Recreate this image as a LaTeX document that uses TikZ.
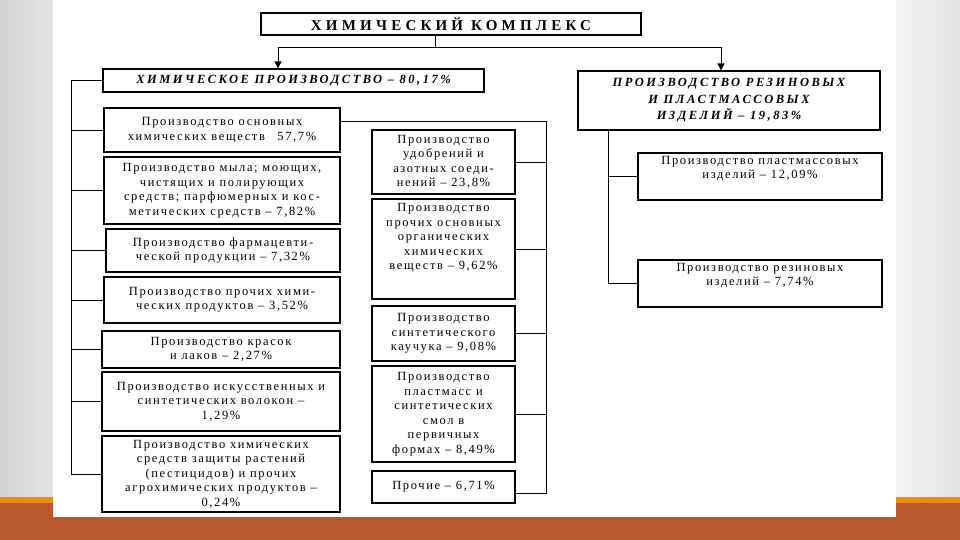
\documentclass[tikz,border=0pt]{standalone}
\usepackage{fontspec}
\setmainfont{Liberation Serif}
\newfontfamily\boxfont[LetterSpace=13]{Liberation Serif}
\newfontfamily\sectfont[LetterSpace=20]{Liberation Serif}
\newfontfamily\headfont[LetterSpace=28]{Liberation Serif}
\usetikzlibrary{calc,arrows.meta}
\definecolor{bandorange}{RGB}{184,88,46}
\definecolor{lineorange}{RGB}{232,140,20}
\definecolor{slidegray}{RGB}{214,214,212}

\begin{document}
\begin{tikzpicture}[x=1pt,y=1pt,yscale=-1,xscale=1,
  box/.style={draw,line width=1.3pt,align=center,inner sep=0pt,font=\boxfont\fontsize{12.5}{14.5}\selectfont},
  headbox/.style={box,font=\headfont\bfseries\fontsize{15}{17}\selectfont},
  mainbox/.style={box,font=\sectfont\bfseries\itshape\fontsize{12.5}{16.5}\selectfont},
  link/.style={draw,line width=0.9pt},
  arrow/.style={link,-{Triangle[width=7pt,length=7pt]}}]
\useasboundingbox (0,0) rectangle (960,540);

%Background
\fill[slidegray] (0,0) rectangle (960,540);
\fill[left color=gray!35,right color=gray!20] (0,0) rectangle (55,498);
\fill[left color=gray!8,right color=gray!22] (894,0) rectangle (960,498);
\fill[lineorange] (0,497) rectangle (960,503);
\fill[bandorange] (0,503) rectangle (960,540);
\fill[white] (53,0) rectangle (896,517);

%Top level
\node[headbox,minimum width=380pt,minimum height=22pt] (title) at (451,24) {ХИМИЧЕСКИЙ КОМПЛЕКС};
\node[mainbox,minimum width=381pt,minimum height=23pt] (chem) at (293.5,80.5) {ХИМИЧЕСКОЕ ПРОИЗВОДСТВО – 80,17\%};
\node[mainbox,minimum width=302pt,minimum height=59pt] (rubber) at (729,100.5) {ПРОИЗВОДСТВО РЕЗИНОВЫХ\\И ПЛАСТМАССОВЫХ\\ИЗДЕЛИЙ – 19,83\%};

%Left column
\node[box,minimum width=236pt,minimum height=44pt] (a1) at (222,130) {Производство основных\\химических веществ\quad 57,7\%};
\node[box,minimum width=236pt,minimum height=67pt] (a2) at (222,190.5) {Производство мыла; моющих,\\чистящих и полирующих\\средств; парфюмерных и кос-\\метических средств – 7,82\%};
\node[box,minimum width=234pt,minimum height=43pt] (a3) at (223,250.5) {Производство фармацевти-\\ческой продукции – 7,32\%};
\node[box,minimum width=236pt,minimum height=46pt] (a4) at (222,300) {Производство прочих хими-\\ческих продуктов – 3,52\%};
\node[box,minimum width=238pt,minimum height=37pt] (a5) at (221,349.5) {Производство красок\\и лаков – 2,27\%};
\node[box,minimum width=238pt,minimum height=59pt] (a6) at (221,401.5) {Производство искусственных и\\синтетических волокон –\\1,29\%};
\node[box,minimum width=238pt,minimum height=76pt] (a7) at (221,474) {Производство химических\\средств защиты растений\\(пестицидов) и прочих\\агрохимических продуктов –\\0,24\%};

%Middle column
\node[box,minimum width=143pt,minimum height=64pt] (b1) at (443.5,162) {Производство\\удобрений и\\азотных соеди-\\нений – 23,8\%};
\node[box,minimum width=143pt,minimum height=100pt] (b2) at (443.5,249) {Производство\\прочих основных\\органических\\химических\\веществ – 9,62\%\\[10pt]\mbox{}};
\node[box,minimum width=143pt,minimum height=55pt] (b3) at (443.5,333.5) {Производство\\синтетического\\каучука – 9,08\%};
\node[box,minimum width=143pt,minimum height=96pt] (b4) at (443.5,414) {Производство\\пластмасс и\\синтетических\\смол в\\первичных\\формах – 8,49\%};
\node[box,minimum width=143pt,minimum height=32pt] (b5) at (443.5,487) {Прочие – 6,71\%};

%Right column
\node[box,minimum width=244pt,minimum height=47pt] (c1) at (760,176.5) {Производство пластмассовых\\изделий – 12,09\%\\[4pt]\mbox{}};
\node[box,minimum width=244pt,minimum height=47pt] (c2) at (760,283.5) {Производство резиновых\\изделий – 7,74\%\\[4pt]\mbox{}};

%Connectors
\coordinate (stem) at (435,47);
\coordinate (forkL) at (278,47);
\coordinate (forkR) at (721,47);
\draw[link] (stem |- title.south) -- (stem);
\draw[link] (forkL) -- (forkR);
\draw[arrow] (forkL) -- (forkL |- chem.north);
\draw[arrow] (forkR) -- (forkR |- rubber.north);

\coordinate (lspine) at (71,80);
\draw[link] (chem.west) -- (chem.west -| lspine) |- (a7.west);
\foreach \n in {a1,a2,a3,a4,a5,a6}
  \draw[link] (\n.west) -- (\n.west -| lspine);

\coordinate (mspine) at (546,121);
\draw[link] (a1.east |- mspine) -- (mspine) |- ($(b5.north east)!0.7!(b5.south east)$);
\foreach \n in {b1,b2,b3,b4}
  \draw[link] (\n.east) -- (\n.east -| mspine);

\coordinate (rspine) at (608,130);
\draw[link] (rspine |- rubber.south) |- (c2.west);
\draw[link] (c1.west -| rspine) -- (c1.west);

\end{tikzpicture}
\end{document}
